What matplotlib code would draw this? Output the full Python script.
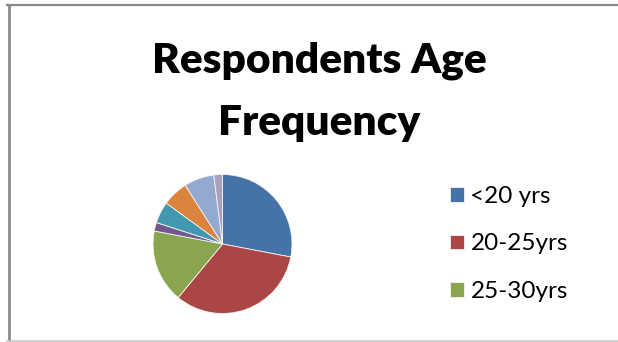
import matplotlib
matplotlib.use("Agg")
import matplotlib.pyplot as plt
from matplotlib.lines import Line2D

# age groups (only the first three appear in the legend)
age_groups = ["<20 yrs", "20-25yrs", "25-30yrs", "30-35yrs", "35-40yrs",
              "40-45yrs", "45-50yrs", ">50 yrs"]
frequency = [28, 33, 17, 2, 5, 6, 7, 2]
colors = ["#4572A7", "#AA4643", "#89A54E", "#71588F",
          "#4198AF", "#DB843D", "#93A9CF", "#AA9FC0"]

W, H = 618, 342
fig = plt.figure(figsize=(W / 100, H / 100), dpi=100)
fig.patch.set_facecolor("white")

# pie axes, square, centred near (222, 244) px
cx, cy, r = 222.5, 244, 69.5
ax = fig.add_axes([(cx - r) / W, (H - cy - r) / H, 2 * r / W, 2 * r / H])
wedges, _ = ax.pie(frequency, colors=colors, startangle=90, counterclock=False,
                   radius=1.0,
                   wedgeprops=dict(edgecolor="#f4f4f4", linewidth=0.6))
ax.set_xlim(-1.0, 1.0)
ax.set_ylim(-1.0, 1.0)
ax.set_aspect("equal")
ax.axis("off")

fig.legend(wedges[:3], age_groups[:3], loc="center left",
           bbox_to_anchor=(450 / W, 1 - 244 / H), frameon=False,
           prop=dict(family="Lato", size=17.5),
           handlelength=0.56, handleheight=0.56, handletextpad=0.28,
           labelspacing=1.1, borderpad=0, borderaxespad=0)

# title, two lines
fig.text(319 / W, 1 - 73 / H, "Respondents Age", ha="center", va="baseline",
         family="Lato", fontweight="heavy", fontsize=30.5)
fig.text(319 / W, 1 - 135 / H, "Frequency", ha="center", va="baseline",
         family="Lato", fontweight="heavy", fontsize=30.5)

# chart frame
fig.add_artist(Line2D([7 / W, 1], [1 - 5 / H, 1 - 5 / H], color="#8a8a8a",
                      lw=1.6, transform=fig.transFigure))
fig.add_artist(Line2D([8.5 / W, 8.5 / W], [1 - 5 / H, 0], color="#8a8a8a",
                      lw=2.0, transform=fig.transFigure))
fig.add_artist(Line2D([7 / W, 1], [1 - 340.5 / H, 1 - 340.5 / H],
                      color="#c8c8c8", lw=1.2, transform=fig.transFigure))

fig.savefig("out.png", dpi=100)
